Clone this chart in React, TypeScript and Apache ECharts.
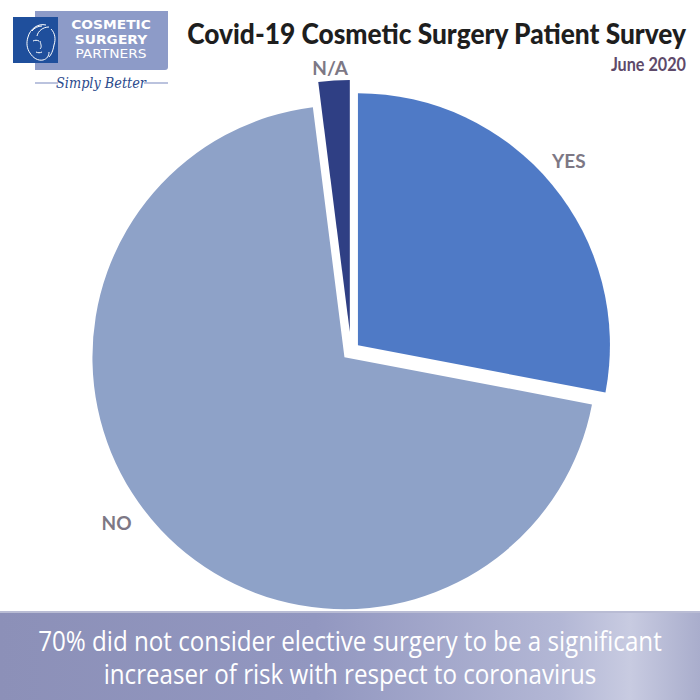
import React, { useEffect, useRef } from "react";
import * as echarts from "echarts";

const categories = ["YES", "NO", "N/A"];
const values = [28, 70, 2];
const sliceColors = ["#4f7ac6", "#8ea2c8", "#2f3f84"];
const explode = [9, 9, 19];
const labelShift = [
  [-16, -12],
  [-14, -18],
  [17, 6],
];

const titleText = "Covid-19 Cosmetic Surgery Patient Survey";
const subtitleText = "June 2020";
const footerLines = [
  "70% did not consider elective surgery to be a significant",
  "increaser of risk with respect to coronavirus",
];
const logoLines = ["COSMETIC", "SURGERY", "PARTNERS"];
const taglineText = "Simply Better";

const facePath =
  "M30,6 C22,4 14,10 12,18 M33,8 C27,8 22,12 21,17 M12,18 C10,24 11,30 14,34 C17,39 22,42 27,41 M27,41 C31,40 33,37 33,33 M17,22 C19,21 21,21 23,22 M24,22 C25,26 26,28 24,30 M20,33 C22,34 24,34 26,33 M35,10 C39,14 40,20 38,26 M38,26 C37,32 35,36 33,38 M16,12 C18,9 22,7 26,7";

echarts.graphic.registerShape("logoface", echarts.graphic.extendPath(facePath, {}));

export default function App() {
  const ref = useRef<HTMLDivElement>(null);
  useEffect(() => {
    if (!ref.current) return;
    const chart = echarts.init(ref.current, null, { renderer: "svg" });
    const total = values.reduce((a, b) => a + b, 0);
    const cx = 351;
    const cy = 351;
    const radius = 252;
    let acc = 0;
    const series: any[] = values.map((v, i) => {
      const start = (acc / total) * Math.PI * 2;
      acc += v;
      const end = (acc / total) * Math.PI * 2;
      const mid = (start + end) / 2;
      const ox = Math.sin(mid) * explode[i];
      const oy = -Math.cos(mid) * explode[i];
      return {
        type: "pie",
        silent: true,
        startAngle: 90,
        clockwise: true,
        center: [cx + ox, cy + oy],
        radius: [0, radius],
        avoidLabelOverlap: false,
        emphasis: { disabled: true },
        labelLine: { show: false, length: 18, length2: 0 },
        labelLayout: { dx: labelShift[i][0], dy: labelShift[i][1] - 1 },
        label: {
          show: true,
          position: "outside",
          color: "#7d7885",
          fontFamily: "Lato",
          fontWeight: "bold",
          fontSize: 19,
          formatter: "{b}",
          distanceToLabelLine: 2,
        },
        data: categories.map((c, j) => ({
          name: c,
          value: values[j],
          itemStyle:
            j === i
              ? { color: sliceColors[j], borderWidth: 0 }
              : { color: "rgba(0,0,0,0)", borderWidth: 0 },
          label: { show: j === i },
        })),
      };
    });

    chart.setOption({
      animation: false,
      backgroundColor: "#ffffff",
      series,
      graphic: [
        // footer band
        {
          type: "rect",
          shape: { x: 0, y: 611, width: 700, height: 89 },
          style: {
            fill: new echarts.graphic.LinearGradient(0, 0, 1, 0, [
              { offset: 0, color: "#8c90b8" },
              { offset: 0.45, color: "#9297c0" },
              { offset: 0.8, color: "#b3b7d5" },
              { offset: 0.9, color: "#c8cbe1" },
              { offset: 1, color: "#a9adcc" },
            ]),
          },
          z: 10,
        },
        {
          type: "rect",
          shape: { x: 0, y: 611, width: 700, height: 2 },
          style: { fill: "#b9bcd4" },
          z: 11,
        },
        {
          type: "text",
          x: 350,
          y: 657,
          scaleX: 0.895,
          style: {
            text: footerLines.join("\n"),
            fill: "#ffffff",
            fontFamily: "Open Sans",
            fontSize: 27,
            fontWeight: "normal",
            lineHeight: 33,
            align: "center",
            verticalAlign: "middle",
          },
          z: 12,
        },
        // title
        {
          type: "text",
          x: 686,
          y: 33,
          scaleX: 0.94,
          style: {
            text: titleText,
            fill: "#1e1e1e",
            fontFamily: "Lato",
            fontWeight: 900,
            fontSize: 28,
            align: "right",
            verticalAlign: "middle",
          },
        },
        {
          type: "text",
          x: 686,
          y: 64,
          scaleX: 0.9,
          style: {
            text: subtitleText,
            fill: "#5e4a6a",
            fontFamily: "Lato",
            fontWeight: "bold",
            fontSize: 18,
            align: "right",
            verticalAlign: "middle",
          },
        },
        // logo
        {
          type: "rect",
          shape: { x: 35, y: 11, width: 133, height: 59, r: [0, 0, 3, 0] },
          style: { fill: "#8d9bc8" },
        },
        {
          type: "rect",
          shape: { x: 13, y: 17, width: 45, height: 46 },
          style: { fill: "#1f4f9c" },
        },
        {
          type: "logoface",
          x: 16,
          y: 19,
          scaleX: 1,
          scaleY: 1,
          style: { fill: "none", stroke: "#ffffff", lineWidth: 1 },
        },
        ...logoLines.map((t, i) => ({
          type: "text",
          x: 111,
          y: 25 + i * 14.5,
          scaleX: 1.15,
          style: {
            text: t,
            fill: "#ffffff",
            fontFamily: "DejaVu Sans",
            fontWeight: i < 2 ? "bold" : "normal",
            fontSize: 12,
            align: "center",
            verticalAlign: "middle",
          },
        })),
        {
          type: "line",
          shape: { x1: 35, y1: 83, x2: 58, y2: 83 },
          style: { stroke: "#8d9bc8", lineWidth: 1.2 },
        },
        {
          type: "line",
          shape: { x1: 144, y1: 83, x2: 168, y2: 83 },
          style: { stroke: "#8d9bc8", lineWidth: 1.2 },
        },
        {
          type: "text",
          x: 101,
          y: 83,
          scaleX: 0.92,
          style: {
            text: taglineText,
            fill: "#2b4a8c",
            fontFamily: "DejaVu Serif",
            fontStyle: "italic",
            fontSize: 14,
            align: "center",
            verticalAlign: "middle",
          },
        },
      ],
    });
    return () => chart.dispose();
  }, []);
  return (
    <div
      ref={ref}
      style={{ position: "fixed", left: 0, top: 0, width: 700, height: 700 }}
    />
  );
}
